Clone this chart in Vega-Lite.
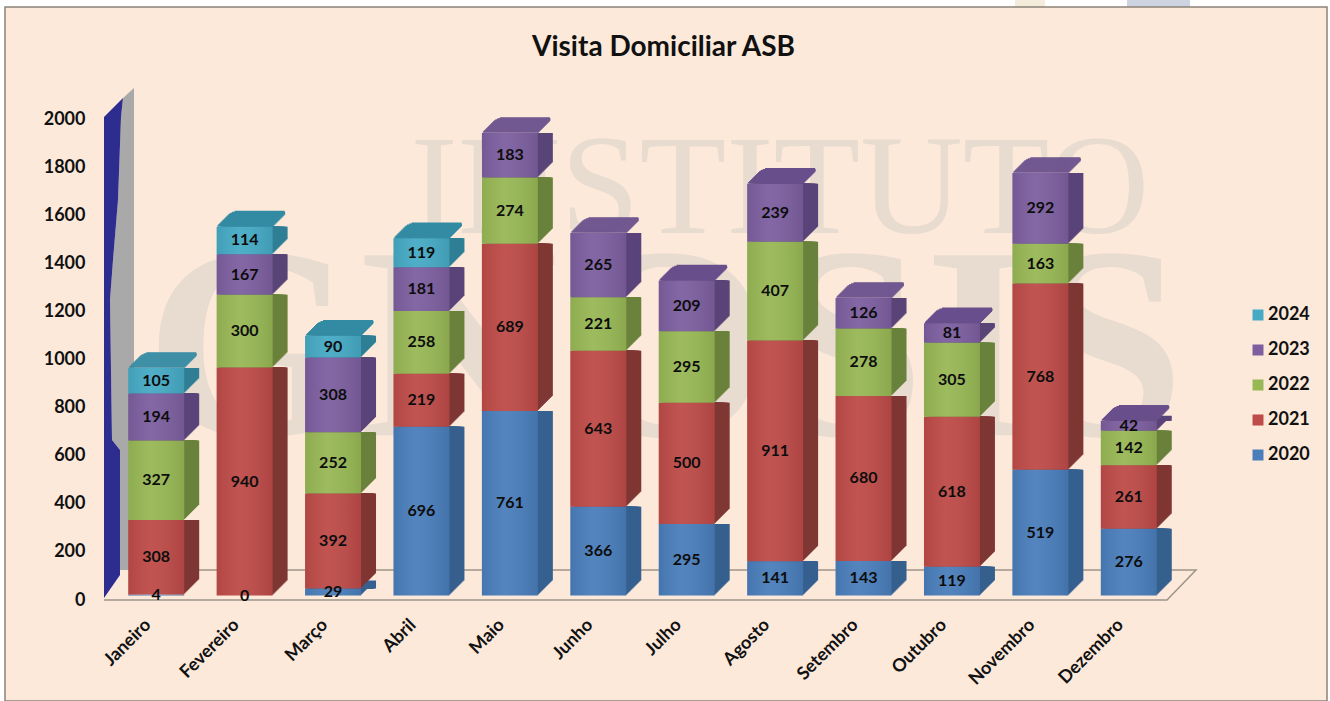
{"$schema":"https://vega.github.io/schema/vega-lite/v6.json","width":1061,"height":481,"autosize":{"type":"none"},"padding":{"left":112,"top":117,"right":157,"bottom":103},"background":"#fce9da",
"title":{"text":"Visita Domiciliar ASB","font":"Lato","fontSize":28,"fontWeight":"bold","color":"#111111","anchor":"middle","dx":21,"offset":0,"dy":62},
"datasets":{"visits":[
{"month":"Janeiro","year":2020,"value":4},{"month":"Janeiro","year":2021,"value":308},{"month":"Janeiro","year":2022,"value":327},{"month":"Janeiro","year":2023,"value":194},{"month":"Janeiro","year":2024,"value":105},
{"month":"Fevereiro","year":2020,"value":0},{"month":"Fevereiro","year":2021,"value":940},{"month":"Fevereiro","year":2022,"value":300},{"month":"Fevereiro","year":2023,"value":167},{"month":"Fevereiro","year":2024,"value":114},
{"month":"Março","year":2020,"value":29},{"month":"Março","year":2021,"value":392},{"month":"Março","year":2022,"value":252},{"month":"Março","year":2023,"value":308},{"month":"Março","year":2024,"value":90},
{"month":"Abril","year":2020,"value":696},{"month":"Abril","year":2021,"value":219},{"month":"Abril","year":2022,"value":258},{"month":"Abril","year":2023,"value":181},{"month":"Abril","year":2024,"value":119},
{"month":"Maio","year":2020,"value":761},{"month":"Maio","year":2021,"value":689},{"month":"Maio","year":2022,"value":274},{"month":"Maio","year":2023,"value":183},
{"month":"Junho","year":2020,"value":366},{"month":"Junho","year":2021,"value":643},{"month":"Junho","year":2022,"value":221},{"month":"Junho","year":2023,"value":265},
{"month":"Julho","year":2020,"value":295},{"month":"Julho","year":2021,"value":500},{"month":"Julho","year":2022,"value":295},{"month":"Julho","year":2023,"value":209},
{"month":"Agosto","year":2020,"value":141},{"month":"Agosto","year":2021,"value":911},{"month":"Agosto","year":2022,"value":407},{"month":"Agosto","year":2023,"value":239},
{"month":"Setembro","year":2020,"value":143},{"month":"Setembro","year":2021,"value":680},{"month":"Setembro","year":2022,"value":278},{"month":"Setembro","year":2023,"value":126},
{"month":"Outubro","year":2020,"value":119},{"month":"Outubro","year":2021,"value":618},{"month":"Outubro","year":2022,"value":305},{"month":"Outubro","year":2023,"value":81},
{"month":"Novembro","year":2020,"value":519},{"month":"Novembro","year":2021,"value":768},{"month":"Novembro","year":2022,"value":163},{"month":"Novembro","year":2023,"value":292},
{"month":"Dezembro","year":2020,"value":276},{"month":"Dezembro","year":2021,"value":261},{"month":"Dezembro","year":2022,"value":142},{"month":"Dezembro","year":2023,"value":42}
],
"panel":[{"a":-107,"b":1215,"lo":-428,"hi":2457}],
"outside":[{"a":-112,"b":1218,"lo":2457,"hi":2486},{"a":-112,"b":-107,"lo":-428,"hi":2486},{"a":1215,"b":1218,"lo":-428,"hi":2486}],
"stripes":[{"a":903,"b":933,"lo":2457,"hi":2486,"c":"y"},{"a":1015,"b":1078,"lo":2457,"hi":2486,"c":"g"}],
"blue":[{"level":2079,"lo":11,"hi":11},{"level":2000,"lo":-8,"hi":9},{"level":1655,"lo":-8,"hi":6},{"level":1405,"lo":-8,"hi":1},{"level":1239,"lo":-8,"hi":-2},{"level":657,"lo":-8,"hi":0},{"level":615,"lo":-8,"hi":8},{"level":96,"lo":-8,"hi":8},{"level":0,"lo":-8,"hi":-8}],
"grey":[{"level":2121,"lo":22,"hi":22},{"level":2079,"lo":11,"hi":22},{"level":2000,"lo":9,"hi":22},{"level":1655,"lo":6,"hi":22},{"level":1405,"lo":1,"hi":22},{"level":1239,"lo":-2,"hi":22},{"level":657,"lo":0,"hi":22},{"level":615,"lo":8,"hi":22},{"level":116,"lo":8,"hi":22}],
"floor":[{"o":1,"a":18,"level":116},{"o":2,"a":1084,"level":116},{"o":3,"a":1055,"level":-8},{"o":4,"a":-8,"level":-8}]
},
"layer":[
{"encoding":{"x":{"field":"a","type":"quantitative","scale":{"domain":[0,1061],"nice":false,"zero":false},"axis":null},
"y":{"field":"level","type":"quantitative","scale":{"domain":[0,2000],"nice":false,"zero":false},"axis":{"title":null,"values":[0,200,400,600,800,1000,1200,1400,1600,1800,2000],"format":"d","domain":false,"ticks":false,"grid":false,"labelPadding":27,"labelOffset":2,"labelFont":"Lato","labelFontSize":18,"labelFontWeight":"bold","labelColor":"#111111","zindex":1}}},
"layer":[
{"data":{"name":"outside"},"mark":{"type":"rect","fill":"#ffffff"},"encoding":{"x":{"field":"a","type":"quantitative"},"x2":{"field":"b"},"y":{"field":"lo","type":"quantitative"},"y2":{"field":"hi"}}},
{"data":{"name":"stripes"},"mark":{"type":"rect"},"encoding":{"x":{"field":"a","type":"quantitative"},"x2":{"field":"b"},"y":{"field":"lo","type":"quantitative"},"y2":{"field":"hi"},"fill":{"field":"c","type":"nominal","scale":{"domain":["y","g"],"range":["#f3ecdb","#cdd3e0"]},"legend":null}}},
{"data":{"name":"panel"},"mark":{"type":"rect","fillOpacity":0,"stroke":"#8c8378","strokeWidth":1.5},"encoding":{"x":{"field":"a","type":"quantitative"},"x2":{"field":"b"},"y":{"field":"lo","type":"quantitative"},"y2":{"field":"hi"}}},
{"data":{"values":[{"word":"INSTITUTO","a":668,"level":1696}]},"mark":{"type":"text","font":"Liberation Serif","fontSize":142,"color":"#e8dbcf","baseline":"middle","align":"center"},"encoding":{"text":{"field":"word"}}},
{"data":{"values":[{"word":"GNOSIS","a":553,"level":1022}]},"mark":{"type":"text","font":"Liberation Serif","fontSize":275,"fontWeight":"bold","color":"#e8dbcf","baseline":"middle","align":"center"},"encoding":{"text":{"field":"word"}}},
{"data":{"name":"grey"},"mark":{"type":"area","orient":"horizontal","color":"#a9a9a9"},"encoding":{"x":{"field":"lo","type":"quantitative"},"x2":{"field":"hi"}}},
{"data":{"name":"blue"},"mark":{"type":"area","orient":"horizontal","color":"#2c2d8f"},"encoding":{"x":{"field":"lo","type":"quantitative"},"x2":{"field":"hi"}}},
{"data":{"name":"floor"},"mark":{"type":"line","color":"#9c9488","strokeWidth":1.5},"encoding":{"order":{"field":"o","type":"ordinal"}}}
]},
{"data":{"name":"visits"},
"transform":[{"stack":"value","groupby":["month"],"sort":[{"field":"year","order":"ascending"}],"as":["y0","y1"]},{"calculate":"(datum.y0+datum.y1)/2","as":"mid"}],
"encoding":{"x":{"field":"month","type":"nominal","sort":null,"scale":{"paddingInner":0.367,"paddingOuter":0.1835},"axis":{"title":null,"domain":false,"ticks":false,"grid":false,"labelAngle":-45,"labelAlign":"right","labelBaseline":"middle","labelPadding":24,"labelOffset":-8,"labelFont":"Lato","labelFontSize":18,"labelFontWeight":"bold","labelColor":"#111111","zindex":1}},
"y":{"field":"y0","type":"quantitative","scale":{"domain":[-10,1973],"nice":false,"zero":false},"axis":null}},
"layer":[
{"transform":[{"filter":"datum.value>10"}],"encoding":{"y2":{"field":"y1"},"color":{"field":"year","type":"nominal","legend":null,"scale":{"domain":[2024,2023,2022,2021,2020],"range":["#2f7f96","#5a4478","#6a823c","#7f3734","#36608f"]}}},
"layer":[
{"mark":{"type":"bar","xOffset":15,"yOffset":-15}},{"mark":{"type":"bar","xOffset":14,"yOffset":-14}},{"mark":{"type":"bar","xOffset":13,"yOffset":-13}},{"mark":{"type":"bar","xOffset":12,"yOffset":-12}},{"mark":{"type":"bar","xOffset":11,"yOffset":-11}},{"mark":{"type":"bar","xOffset":10,"yOffset":-10}},{"mark":{"type":"bar","xOffset":9,"yOffset":-9}},{"mark":{"type":"bar","xOffset":8,"yOffset":-8}},{"mark":{"type":"bar","xOffset":7,"yOffset":-7}},{"mark":{"type":"bar","xOffset":6,"yOffset":-6}},{"mark":{"type":"bar","xOffset":5,"yOffset":-5}},{"mark":{"type":"bar","xOffset":4,"yOffset":-4}},{"mark":{"type":"bar","xOffset":3,"yOffset":-3}},{"mark":{"type":"bar","xOffset":2,"yOffset":-2}},{"mark":{"type":"bar","xOffset":1,"yOffset":-1}}
]},
{"transform":[{"joinaggregate":[{"op":"max","field":"y1","as":"total"}],"groupby":["month"]},{"filter":"datum.y1==datum.total && datum.value>0"}],
"encoding":{"y":{"field":"y1","type":"quantitative"},"color":{"field":"year","type":"nominal","legend":null,"scale":{"domain":[2024,2023,2022,2021,2020],"range":["#338aa3","#684f8c","#7a9644","#93403d","#3f6fa5"]}}},
"layer":[
{"mark":{"type":"tick","opacity":1,"size":50,"thickness":1.6,"xOffset":15,"yOffset":-15}},{"mark":{"type":"tick","opacity":1,"size":53,"thickness":1.6,"xOffset":14,"yOffset":-14}},{"mark":{"type":"tick","opacity":1,"size":55,"thickness":1.6,"xOffset":13,"yOffset":-13}},{"mark":{"type":"tick","opacity":1,"size":56,"thickness":1.6,"xOffset":12,"yOffset":-12}},{"mark":{"type":"tick","opacity":1,"size":56,"thickness":1.6,"xOffset":11,"yOffset":-11}},{"mark":{"type":"tick","opacity":1,"size":56,"thickness":1.6,"xOffset":10,"yOffset":-10}},{"mark":{"type":"tick","opacity":1,"size":56,"thickness":1.6,"xOffset":9,"yOffset":-9}},{"mark":{"type":"tick","opacity":1,"size":56,"thickness":1.6,"xOffset":8,"yOffset":-8}},{"mark":{"type":"tick","opacity":1,"size":56,"thickness":1.6,"xOffset":7,"yOffset":-7}},{"mark":{"type":"tick","opacity":1,"size":56,"thickness":1.6,"xOffset":6,"yOffset":-6}},{"mark":{"type":"tick","opacity":1,"size":56,"thickness":1.6,"xOffset":5,"yOffset":-5}},{"mark":{"type":"tick","opacity":1,"size":56,"thickness":1.6,"xOffset":4,"yOffset":-4}},{"mark":{"type":"tick","opacity":1,"size":56,"thickness":1.6,"xOffset":3,"yOffset":-3}},{"mark":{"type":"tick","opacity":1,"size":56,"thickness":1.6,"xOffset":2,"yOffset":-2}},{"mark":{"type":"tick","opacity":1,"size":56,"thickness":1.6,"xOffset":1,"yOffset":-1}}
]},
{"mark":{"type":"bar"},"encoding":{"y2":{"field":"y1"},"color":{"field":"year","type":"nominal","scale":{"domain":[2024,2023,2022,2021,2020],"range":["#46aac5","#7d5fa0","#98b855","#be4b48","#4a7ebb"]},"legend":{"title":null,"orient":"none","legendX":1137,"legendY":188,"symbolType":"square","symbolSize":120,"symbolStrokeWidth":0,"symbolOpacity":1,"rowPadding":15,"labelFont":"Lato","labelFontSize":18,"labelFontWeight":"bold","labelColor":"#111111","labelOffset":1,"clipHeight":20}}}},
{"transform":[{"filter":"datum.value>0"}],"mark":{"type":"bar","fill":{"gradient":"linear","x1":0,"x2":1,"y1":0,"y2":0,"stops":[{"offset":0,"color":"rgba(0,0,0,0.07)"},{"offset":0.4,"color":"rgba(255,255,255,0.05)"},{"offset":1,"color":"rgba(0,0,0,0.09)"}]}},"encoding":{"y2":{"field":"y1"}}},
{"mark":{"type":"text","font":"Lato","fontSize":16,"fontWeight":"bold","color":"#0d0d0d","baseline":"middle","align":"center"},"encoding":{"y":{"field":"mid","type":"quantitative"},"text":{"field":"value","type":"quantitative"}}}
],
"resolve":{"scale":{"color":"independent"}}}
],
"resolve":{"scale":{"x":"independent","y":"independent"},"axis":{"x":"independent","y":"independent"}},
"config":{"view":{"stroke":null},"bar":{"stroke":null}}}
